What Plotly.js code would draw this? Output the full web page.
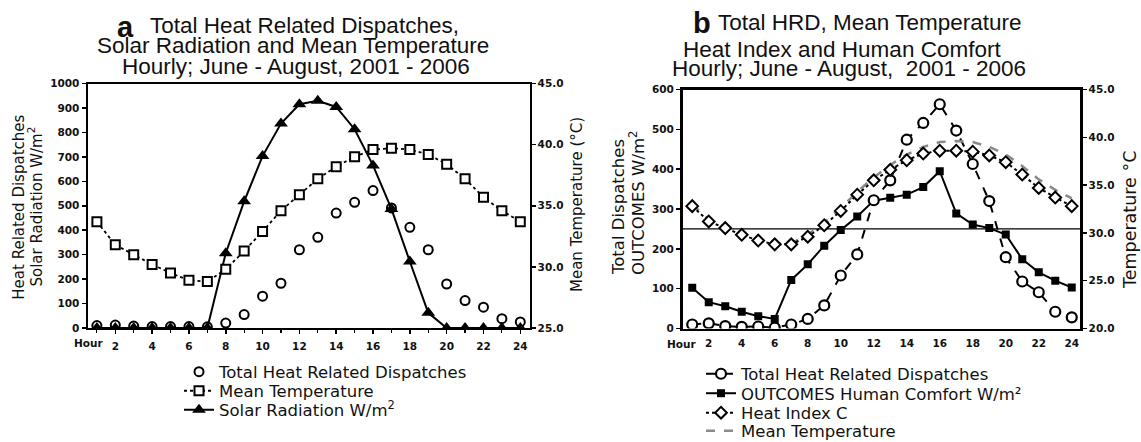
<!DOCTYPE html>
<html>
<head>
<meta charset="utf-8">
<script src="https://cdn.plot.ly/plotly-3.0.1.min.js"></script>
<style>
html,body{margin:0;padding:0;background:#fff;}
#chart{width:1141px;height:442px;}
</style>
</head>
<body>
<div id="chart"></div>
<script>
// ---------- DATA ----------
const hours = [1,2,3,4,5,6,7,8,9,10,11,12,13,14,15,16,17,18,19,20,21,22,23,24];
const hourTickVals = [2,4,6,8,10,12,14,16,18,20,22,24];
const hourTickText = ['2','4','6','8','10','12','14','16','18','20','22','24'];
const hourLabel = 'Hour';

// Panel a
const dispatchesA = [10,12,8,6,6,6,5,20,55,130,183,320,371,470,514,562,491,412,320,180,112,85,38,25];
const meanTempA   = [33.7,31.8,31.0,30.2,29.5,28.9,28.8,29.8,31.3,32.9,34.6,35.9,37.2,38.2,39.0,39.6,39.7,39.6,39.2,38.4,37.2,35.7,34.6,33.7];
const solarA      = [0,0,0,0,0,0,0,306,518,703,836,915,929,904,813,665,487,272,62,0,0,0,0,0];

// Panel b
const dispatchesB = [10,13,6,4,5,2,10,24,58,133,186,322,372,474,516,563,497,413,320,179,118,91,42,28];
const comfortB    = [102,66,56,42,31,24,122,161,208,247,281,321,328,336,355,395,289,261,252,236,174,141,120,103];
const heatIndexB  = [32.8,31.2,30.5,29.8,29.2,28.8,28.8,29.6,30.8,32.3,34.0,35.5,36.6,37.6,38.3,38.6,38.6,38.5,38.1,37.4,36.1,34.7,33.7,32.8];
const meanTempB   = [33.0,31.4,30.6,29.9,29.3,28.9,28.9,29.8,31.1,32.6,34.3,35.8,37.1,38.2,39.0,39.5,39.6,39.5,39.0,38.2,37.0,35.6,34.5,33.6];
const comfortThreshold = 250;

// ---------- HELPERS ----------
const W = 1141, H = 442;
const px = v => v / W;
const py = v => 1 - v / H;

const TXT = '#111';
const TITLE_FONT = {family: 'Liberation Sans, Arial, sans-serif', size: 22.5, color: TXT};
const TICK_FONT = {family: 'DejaVu Sans, sans-serif', size: 10.5, color: TXT, weight: 'bold'};
const LEG_FONT = {family: 'DejaVu Sans, sans-serif', size: 16.5, color: TXT};
const AX_FONT = {family: 'DejaVu Sans, sans-serif', size: 15, color: TXT};
const AX_FONT_B = {family: 'DejaVu Sans, sans-serif', size: 16.5, color: TXT};

// ---------- TRACES ----------
const traces = [
  // Panel a
  {x: hours, y: dispatchesA, name: 'Total Heat Related Dispatches', type: 'scatter', mode: 'markers',
   xaxis: 'x', yaxis: 'y', legend: 'legend',
   marker: {symbol: 'circle-open', size: 9, color: '#000', line: {width: 2, color: '#000'}}},
  {x: hours, y: meanTempA, name: 'Mean Temperature', type: 'scatter', mode: 'lines+markers',
   xaxis: 'x', yaxis: 'y2', legend: 'legend2',
   line: {color: '#000', width: 1.8, dash: 'dot'},
   marker: {symbol: 'square', size: 9, color: '#fff', line: {width: 2, color: '#000'}}},
  {x: hours, y: solarA, name: 'Solar Radiation W/m<sup>2</sup>', type: 'scatter', mode: 'lines+markers',
   xaxis: 'x', yaxis: 'y', legend: 'legend3',
   line: {color: '#000', width: 2},
   marker: {symbol: 'triangle-up', size: 12, color: '#000'}},

  // Panel b
  {x: hours, y: meanTempB, name: 'Mean Temperature', type: 'scatter', mode: 'lines',
   xaxis: 'x2', yaxis: 'y4', legend: 'legend7',
   line: {color: '#8a8a8a', width: 2.5, dash: 'dash'}},
  {x: hours, y: heatIndexB, name: 'Heat Index C', type: 'scatter', mode: 'lines+markers',
   xaxis: 'x2', yaxis: 'y4', legend: 'legend6',
   line: {color: '#000', width: 2, dash: 'dot'},
   marker: {symbol: 'diamond', size: 9, color: '#fff', line: {width: 2, color: '#000'}}},
  {x: hours, y: comfortB, name: 'OUTCOMES Human Comfort W/m²', type: 'scatter', mode: 'lines+markers',
   xaxis: 'x2', yaxis: 'y3', legend: 'legend5',
   line: {color: '#000', width: 2},
   marker: {symbol: 'square', size: 8, color: '#000'}},
  {x: hours, y: dispatchesB, name: 'Total Heat Related Dispatches', type: 'scatter', mode: 'lines+markers',
   xaxis: 'x2', yaxis: 'y3', legend: 'legend4',
   line: {color: '#000', width: 2, dash: 'dash'},
   marker: {symbol: 'circle', size: 10, color: '#fff', line: {width: 2.2, color: '#000'}}}
];

// ---------- LAYOUT ----------
function xAx(domain, range, anchor, ticks, lw) {
  const a = {
    domain: domain, range: range, anchor: anchor,
    tickmode: 'array', tickvals: hourTickVals, ticktext: hourTickText, tickangle: 0,
    showline: true, linecolor: '#000', linewidth: lw, mirror: true,
    ticks: ticks, ticklen: 4, tickwidth: 1.5, tickcolor: '#000', ticklabelstandoff: 3,
    showgrid: false, zeroline: false, tickfont: TICK_FONT, fixedrange: true
  };
  if (ticks) a.minor = {ticks: 'outside', ticklen: 3, tickwidth: 1.2, tickcolor: '#000', dtick: 1, tick0: 1, showgrid: false};
  return a;
}
function yAx(domain, range, dtick, anchor, lw, extra) {
  return Object.assign({
    domain: domain, range: range, anchor: anchor, dtick: dtick, tick0: range[0],
    showline: true, linecolor: '#000', linewidth: lw, mirror: true,
    ticks: 'outside', ticklen: 4, tickwidth: 1.5, tickcolor: '#000',
    showgrid: false, zeroline: false, tickfont: TICK_FONT, fixedrange: true
  }, extra || {});
}

const yDomA = [py(328), py(83.5)];
const yDomB = [py(328.5), py(89.5)];

function leg(xLeft, yCenter) {
  return {x: px(xLeft), y: py(yCenter), xanchor: 'left', yanchor: 'middle',
          bgcolor: 'rgba(0,0,0,0)', borderwidth: 0, font: LEG_FONT, itemwidth: 30,
          orientation: 'v'};
}

function ann(text, x, y, font, opts) {
  return Object.assign({text: text, x: px(x), y: py(y), xref: 'paper', yref: 'paper',
    showarrow: false, font: font, xanchor: 'left', yanchor: 'middle'}, opts || {});
}

const layout = {
  width: W, height: H,
  margin: {l: 0, r: 0, t: 0, b: 0, autoexpand: false},
  paper_bgcolor: '#fff', plot_bgcolor: '#fff',
  showlegend: true,
  xaxis: xAx([px(87.5), px(529.5)], [0.49, 24.5], 'y', 'outside', 2),
  yaxis: yAx(yDomA, [0, 1000], 100, 'x', 2),
  yaxis2: yAx(yDomA, [25, 45], 5, 'x', 2, {overlaying: 'y', side: 'right', tickformat: '.1f', mirror: false}),
  xaxis2: xAx([px(682.5), px(1080)], [0.41, 24.5], 'y3', '', 2.5),
  yaxis3: yAx(yDomB, [0, 600], 100, 'x2', 2.5),
  yaxis4: yAx(yDomB, [20, 45], 5, 'x2', 2.5, {overlaying: 'y3', side: 'right', tickformat: '.1f', mirror: false}),

  legend:  leg(179, 372),
  legend2: leg(179, 391),
  legend3: leg(179, 410),
  legend4: leg(701, 374),
  legend5: leg(701, 393.5),
  legend6: leg(701, 413),
  legend7: leg(701, 431),

  shapes: [
    {type: 'line', xref: 'x2 domain', yref: 'y3', x0: 0, x1: 1, y0: comfortThreshold, y1: comfortThreshold,
     line: {color: '#000', width: 1.2}, layer: 'below'}
  ],

  annotations: [
    // Panel a title
    ann('<b>a</b>', 115, 27, {family: 'Liberation Sans, Arial, sans-serif', size: 29, color: TXT}),
    ann('Total Heat Related Dispatches,', 148, 25.5, TITLE_FONT),
    ann('Solar Radiation and Mean Temperature', 95, 45.5, TITLE_FONT),
    ann('Hourly; June - August, 2001 - 2006', 120, 66, TITLE_FONT),
    // Panel b title
    ann('<b>b</b>', 691, 23, {family: 'Liberation Sans, Arial, sans-serif', size: 29, color: TXT}),
    ann('Total HRD, Mean Temperature', 716, 22.5, TITLE_FONT),
    ann('Heat Index and Human Comfort', 681.5, 49.5, TITLE_FONT),
    ann('Hourly; June - August,  2001 - 2006', 670, 68.5, TITLE_FONT),

    // "Hour" labels on the x axes
    ann(hourLabel, 88.5, 343, TICK_FONT, {xanchor: 'center'}),
    ann(hourLabel, 681.5, 344, TICK_FONT, {xanchor: 'center'}),

    // Panel a axis titles
    ann('Heat Related Dispatches', 18.7, 207, AX_FONT, {xanchor: 'center', textangle: -90}),
    ann('Solar Radiation W/m<sup>2</sup>', 35.5, 207, AX_FONT, {xanchor: 'center', textangle: -90}),
    ann('Mean Temperature (°C)', 577, 205, AX_FONT, {xanchor: 'center', textangle: -90}),

    // Panel b axis titles
    ann('Total Dispatches', 618, 207, AX_FONT_B, {xanchor: 'center', textangle: -90}),
    ann('OUTCOMES W/m<sup>2</sup>', 637, 203, AX_FONT_B, {xanchor: 'center', textangle: -90}),
    ann('Temperature °C', 1130, 220, {family: 'DejaVu Sans, sans-serif', size: 17.5, color: TXT}, {xanchor: 'center', textangle: -90})
  ]
};

Plotly.newPlot('chart', traces, layout, {staticPlot: true, displayModeBar: false});
</script>
</body>
</html>
